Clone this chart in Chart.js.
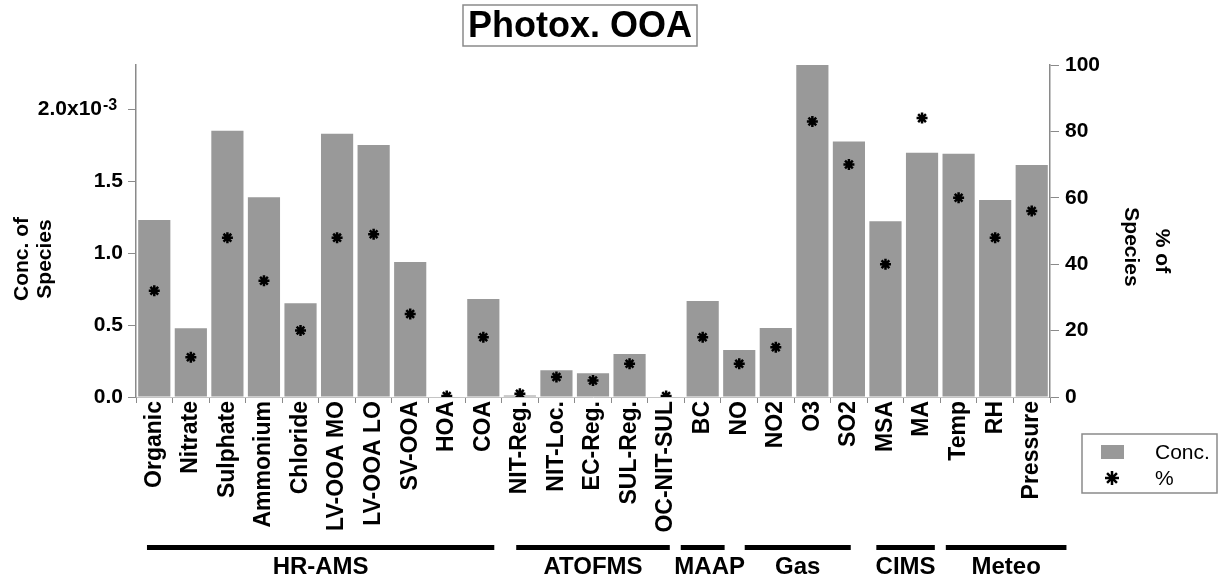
<!DOCTYPE html>
<html>
<head>
<meta charset="utf-8">
<script src="https://cdn.jsdelivr.net/npm/chart.js@4/dist/chart.umd.min.js"></script>
<style>
  html, body { margin: 0; padding: 0; background: #fff; }
  #wrap { width: 1228px; height: 586px; position: relative; }
</style>
</head>
<body>
<div id="wrap"><canvas id="c" width="1228" height="586"></canvas></div>
<script>
// Species measured by each instrument
const categories = [
  'Organic', 'Nitrate', 'Sulphate', 'Ammonium', 'Chloride', 'LV-OOA MO', 'LV-OOA LO', 'SV-OOA', 'HOA', 'COA',
  'NIT-Reg.', 'NIT-Loc.', 'EC-Reg.', 'SUL-Reg.', 'OC-NIT-SUL',
  'BC',
  'NO', 'NO2', 'O3', 'SO2',
  'MSA', 'MA',
  'Temp', 'RH', 'Pressure'
];

// Concentration of species (left axis)
const concentration = [
  1.230e-3, 0.477e-3, 1.850e-3, 1.387e-3, 0.651e-3, 1.829e-3, 1.750e-3, 0.938e-3, 0, 0.680e-3,
  0.010e-3, 0.185e-3, 0.165e-3, 0.299e-3, 0,
  0.667e-3,
  0.326e-3, 0.480e-3, 2.306e-3, 1.775e-3,
  1.220e-3, 1.697e-3,
  1.690e-3, 1.368e-3, 1.611e-3
];

// Percentage of species (right axis)
const percentOfSpecies = [
  32, 12, 48, 35, 20, 48, 49, 25, 0.3, 18,
  1, 6, 5, 10, 0.3,
  18,
  10, 15, 83, 70,
  40, 84,
  60, 48, 56
];

const leftTicks = [0, 0.5e-3, 1.0e-3, 1.5e-3, 2.0e-3];
const rightTicks = [0, 20, 40, 60, 80, 100];

// Instrument groups: name and the span of its underline, in category units
const groupNames = ['HR-AMS', 'ATOFMS', 'MAAP', 'Gas', 'CIMS', 'Meteo'];
const groupFrom  = [-0.2, 9.9, 14.4, 16.15, 19.75, 21.65];
const groupTo    = [9.3, 14.1, 15.6, 19.05, 21.35, 24.95];

const FONT = 'Arial, "Liberation Sans", Helvetica, sans-serif';
const BAR_GREY = '#999999';
const AXIS_GREY = '#8a8a8a';

const annotations = {
  id: 'annotations',
  afterDraw(chart) {
    const ctx = chart.ctx;
    const xs = chart.scales.x;
    const ys = chart.scales.y;
    ctx.save();

    // Boxed title
    ctx.font = 'bold 36px ' + FONT;
    ctx.fillStyle = '#000';
    ctx.textAlign = 'center';
    ctx.textBaseline = 'middle';
    ctx.fillText('Photox. OOA', 580, 27);
    ctx.strokeStyle = AXIS_GREY;
    ctx.lineWidth = 1.5;
    ctx.strokeRect(463, 5, 234, 41);

    // Exponent on the top left tick label
    const yTop = ys.getPixelForValue(2.0e-3);
    ctx.font = 'bold 21px ' + FONT;
    const em = ctx.measureText('\u2003').width;
    const labelRight = ys.right - 8 - 5;
    ctx.font = 'bold 16px ' + FONT;
    ctx.textAlign = 'left';
    ctx.textBaseline = 'alphabetic';
    ctx.fillText('-3', labelRight - em + 1, yTop + 1);

    // Left axis title
    ctx.font = 'bold 21px ' + FONT;
    ctx.textAlign = 'center';
    ctx.textBaseline = 'middle';
    ctx.save();
    ctx.translate(22, 259);
    ctx.rotate(-Math.PI / 2);
    ctx.fillText('Conc. of', 0, 0);
    ctx.restore();
    ctx.save();
    ctx.translate(45, 259);
    ctx.rotate(-Math.PI / 2);
    ctx.fillText('Species', 0, 0);
    ctx.restore();

    // Right axis title
    ctx.save();
    ctx.translate(1162, 251);
    ctx.rotate(Math.PI / 2);
    ctx.fillText('% of', 0, 0);
    ctx.restore();
    ctx.save();
    ctx.translate(1131, 247);
    ctx.rotate(Math.PI / 2);
    ctx.fillText('Species', 0, 0);
    ctx.restore();

    // Instrument group bars and names
    const step = xs.getPixelForValue(1) - xs.getPixelForValue(0);
    const x0px = xs.getPixelForValue(0);
    ctx.fillStyle = '#000';
    ctx.font = 'bold 24px ' + FONT;
    for (let i = 0; i < groupNames.length; i++) {
      const x0 = x0px + groupFrom[i] * step;
      const x1 = x0px + groupTo[i] * step;
      ctx.fillRect(x0, 545, x1 - x0, 5);
      ctx.fillText(groupNames[i], (x0 + x1) / 2 + (groupNames[i] === 'MAAP' ? 7 : 0), 567);
    }

    // Legend
    ctx.strokeStyle = AXIS_GREY;
    ctx.lineWidth = 1.5;
    ctx.strokeRect(1082, 434, 135, 59);
    ctx.fillStyle = BAR_GREY;
    ctx.fillRect(1101, 445, 23, 14);
    ctx.fillStyle = '#000';
    ctx.font = '21px ' + FONT;
    ctx.textAlign = 'left';
    ctx.fillText(chart.data.datasets[0].label, 1155, 453);
    ctx.fillText(chart.data.datasets[1].label, 1155, 479);
    ctx.strokeStyle = '#000';
    ctx.fillStyle = '#000';
    ctx.lineWidth = 2.5;
    Chart.helpers.drawPoint(ctx, { pointStyle: 'star', radius: 7, borderWidth: 2.5, rotation: 0 }, 1112, 478);

    ctx.restore();
  }
};

const tickFont = { family: FONT, size: 21, weight: 'bold' };

new Chart(document.getElementById('c'), {
  data: {
    labels: categories,
    datasets: [
      {
        type: 'bar',
        label: 'Conc.',
        data: concentration,
        yAxisID: 'y',
        backgroundColor: BAR_GREY,
        borderWidth: 0,
        barPercentage: 0.88,
        categoryPercentage: 1.0,
        order: 1
      },
      {
        type: 'line',
        label: '%',
        data: percentOfSpecies,
        yAxisID: 'y1',
        showLine: false,
        pointStyle: 'star',
        pointRadius: 5.5,
        pointBorderWidth: 2.5,
        borderColor: '#000',
        backgroundColor: '#000',
        order: 0
      }
    ]
  },
  options: {
    responsive: false,
    animation: false,
    devicePixelRatio: 1,
    layout: { padding: { top: 65, left: 0, right: 0, bottom: 0 } },
    plugins: {
      legend: { display: false },
      title: { display: false },
      tooltip: { enabled: false }
    },
    scales: {
      x: {
        type: 'category',
        offset: true,
        grid: { offset: true, drawOnChartArea: false, tickLength: 6, color: AXIS_GREY },
        border: { display: true, color: '#c4c4c4', width: 1 },
        ticks: {
          autoSkip: false,
          maxRotation: 90,
          minRotation: 90,
          padding: -2,
          color: '#000',
          font: { family: FONT, size: 23, weight: 'bold' }
        },
        afterFit(s) { s.height = 189; }
      },
      y: {
        position: 'left',
        min: 0,
        max: Math.max(...concentration),
        afterBuildTicks(s) { s.ticks = leftTicks.map(v => ({ value: v })); },
        grid: { drawOnChartArea: false, tickLength: 8, color: AXIS_GREY },
        border: { display: true, color: AXIS_GREY, width: 1.5 },
        ticks: {
          padding: 5,
          color: '#000',
          font: tickFont,
          callback(v) {
            const t = v / 1e-3;
            return Math.abs(t - 2) < 1e-9 ? '2.0x10\u2003' : t.toFixed(1);
          }
        },
        afterFit(s) { s.width = 136; }
      },
      y1: {
        position: 'right',
        min: 0,
        max: 100,
        afterBuildTicks(s) { s.ticks = rightTicks.map(v => ({ value: v })); },
        grid: { drawOnChartArea: false, tickLength: 9, color: AXIS_GREY },
        border: { display: true, color: AXIS_GREY, width: 1.5 },
        ticks: {
          padding: 6,
          color: '#000',
          font: tickFont,
          callback(v) { return String(v); }
        },
        afterFit(s) { s.width = 178; }
      }
    }
  },
  plugins: [annotations]
});
</script>
</body>
</html>
